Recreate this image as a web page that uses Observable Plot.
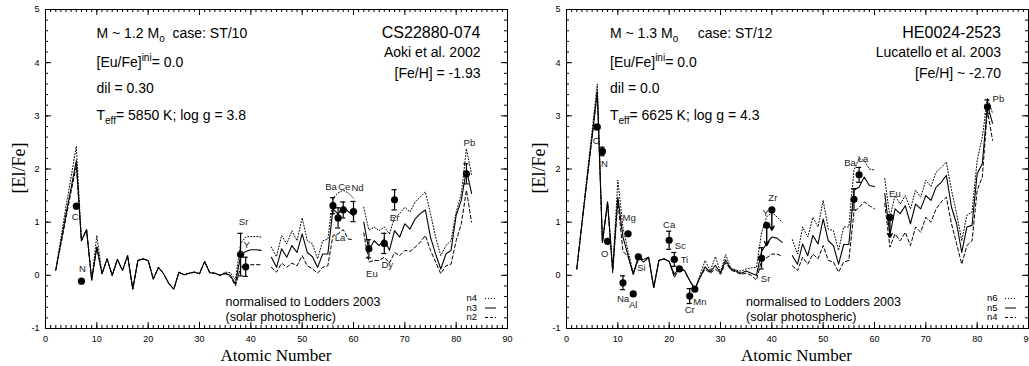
<!DOCTYPE html>
<html><head><meta charset="utf-8">
<script src="https://cdn.jsdelivr.net/npm/d3@7"></script>
<script src="https://cdn.jsdelivr.net/npm/@observablehq/plot@0.6"></script>
<style>
body{margin:0;background:#fff;}
#wrap{position:relative;width:1029px;height:366px;overflow:hidden;font-family:"Liberation Sans",Arial,sans-serif;color:#000;}
.panel{position:absolute;top:0;}
.ann{position:absolute;white-space:nowrap;line-height:1;}
.ann sub{font-size:10px;vertical-align:baseline;position:relative;top:4px;}
.ann sup{font-size:10px;vertical-align:baseline;position:relative;top:-6px;}
</style></head><body><div id="wrap"></div>
<script>
// ---------------- data ----------------
const Z = d3.range(2, 84); // atomic numbers 2..83
const xTickLabels = ["0","10","20","30","40","50","60","70","80","90"];
const yTickLabels = ["-1","0","1","2","3","4","5"];

// Left panel: CS22880-074, n4 (dotted), n3 (solid), n2 (dashed)
const L_n4 = [0.10,0.70,1.30,1.85,2.43,0.65,0.86,-0.09,0.75,0.03,
  0.31,0.00,0.30,0.09,0.37,-0.26,0.28,0.31,0.28,-0.07,
  0.15,0.03,-0.15,-0.26,0.06,0.01,0.04,0.06,0.03,0.26,
  0.05,0.04,0.00,0.06,0.05,-0.08,0.60,0.72,0.73,0.73,
  0.72,null,0.53,0.35,0.75,0.59,0.84,0.65,1.08,0.65,
  0.59,0.31,0.65,0.68,1.45,1.55,1.60,1.55,1.45,null,
  1.28,0.85,0.91,0.84,0.91,0.78,1.09,1.16,1.28,1.19,
  1.38,1.47,1.57,1.16,0.72,0.37,0.56,0.65,1.19,1.53,
  2.38,1.90];
const L_n3 = [0.10,0.62,1.15,1.65,2.16,0.65,0.86,-0.09,0.53,0.03,
  0.31,0.00,0.30,0.09,0.37,-0.26,0.28,0.31,0.28,-0.07,
  0.15,0.03,-0.15,-0.26,0.06,0.01,0.04,0.06,0.03,0.26,
  0.05,0.04,0.00,0.04,0.00,-0.16,0.37,0.45,0.48,0.48,
  0.47,null,0.34,0.15,0.50,0.34,0.56,0.43,0.78,0.43,
  0.35,0.15,0.40,0.40,1.25,1.15,1.30,1.20,1.12,null,
  1.00,0.47,0.65,0.56,0.68,0.47,0.84,0.72,0.97,0.87,
  1.06,1.16,1.23,0.72,0.40,0.12,0.40,0.47,1.13,1.41,
  1.99,1.54];
const L_n2 = [0.10,0.58,1.08,1.58,2.05,0.65,0.86,-0.09,0.53,0.03,
  0.31,0.00,0.30,0.09,0.37,-0.26,0.28,0.31,0.28,-0.07,
  0.15,0.03,-0.15,-0.26,0.06,0.01,0.04,0.06,0.03,0.26,
  0.05,0.04,0.00,0.03,-0.02,-0.20,0.15,0.20,0.20,0.20,
  0.20,null,0.15,0.06,0.23,0.15,0.23,0.18,0.37,0.18,
  0.12,0.04,0.15,0.18,0.75,0.78,0.86,0.68,0.67,null,
  0.80,0.25,0.28,0.28,0.34,0.23,0.43,0.37,0.47,0.45,
  0.53,0.62,0.75,0.47,0.25,0.03,0.18,0.21,0.65,0.97,
  1.60,1.00];
const L_el  = ["C","N","Sr","Y","Ba","La","Ce","Nd","Eu","Dy","Er","Pb"];
const L_Z   = [6,7,38,39,56,57,58,60,63,66,68,82];
const L_v   = [1.30,-0.11,0.39,0.16,1.31,1.08,1.23,1.20,0.50,0.60,1.42,1.91];
const L_err = [0,0,0.40,0.18,0.15,0.19,0.15,0.19,0.17,0.19,0.19,0.19];
const L_lim = [false,false,false,false,false,false,false,false,false,false,false,false];

// Right panel: HE0024-2523, n6 (dotted), n5 (solid), n4 (dashed)
const R_n6 = [0.12,1.00,1.87,2.73,3.60,0.62,1.38,0.10,1.79,0.90,
  0.45,0.05,0.34,0.30,0.34,-0.23,0.28,0.31,0.26,-0.02,
  0.14,0.09,-0.10,-0.26,0.00,0.28,0.08,0.35,0.06,0.39,
  0.14,0.10,0.08,0.12,0.14,0.15,0.80,1.10,1.18,1.10,
  1.00,null,0.67,0.40,0.91,0.72,1.09,0.91,1.41,0.87,
  0.84,0.47,0.91,0.91,1.98,2.20,2.16,2.00,1.98,null,
  1.82,1.09,1.50,1.34,1.50,1.25,1.60,1.47,1.79,1.67,
  1.94,2.03,2.13,1.60,1.16,0.65,1.13,1.19,2.16,2.60,
  3.33,3.05];
const R_n5 = [0.12,0.96,1.80,2.62,3.45,0.62,1.38,0.10,1.47,0.72,
  0.37,0.02,0.34,0.25,0.34,-0.23,0.28,0.31,0.26,0.02,
  0.14,0.09,-0.10,-0.26,-0.04,0.16,0.06,0.19,0.04,0.29,
  0.12,0.08,0.04,0.08,0.04,0.00,0.45,0.60,0.72,0.70,
  0.62,null,0.37,0.21,0.59,0.37,0.75,0.59,1.06,0.65,
  0.56,0.21,0.58,0.58,1.60,1.66,1.85,1.69,1.67,null,
  1.54,0.75,1.25,1.16,1.31,0.97,1.34,1.25,1.50,1.41,
  1.66,1.75,1.88,1.28,0.97,0.43,0.91,0.94,1.91,2.10,
  3.20,2.86];
const R_n4 = [0.12,0.96,1.80,2.62,3.45,0.62,1.38,0.05,1.40,0.45,
  0.35,0.02,0.30,0.30,0.34,-0.23,0.28,0.31,0.26,-0.04,
  0.12,0.09,-0.10,-0.26,-0.04,0.12,0.04,0.12,0.02,0.24,
  0.10,0.06,0.02,0.04,0.00,-0.09,0.28,0.33,0.40,0.40,
  0.36,null,0.18,0.09,0.34,0.21,0.40,0.31,0.56,0.28,
  0.25,0.06,0.25,0.28,1.19,1.28,1.38,1.31,1.25,null,
  1.35,0.53,0.78,0.65,0.81,0.56,0.91,0.81,1.09,1.00,
  1.25,1.38,1.47,0.97,0.59,0.21,0.56,0.65,1.60,1.85,
  3.10,2.54];
const R_el  = ["C","N","O","Na","Mg","Al","Si","Ca","Sc","Ti","Cr","Mn","Sr","Y","Zr","Ba","La","Eu","Pb"];
const R_Z   = [6,7,8,11,12,13,14,20,21,22,24,25,38,39,40,56,57,63,82];
const R_v   = [2.79,2.33,0.64,-0.14,0.78,-0.35,0.35,0.66,0.30,0.12,-0.39,-0.26,0.32,0.94,1.23,1.43,1.89,1.09,3.17];
const R_err = [0.05,0.08,0,0.13,0,0,0,0.17,0.13,0,0.14,0,0.20,0,0,0.20,0.14,0,0.13];
const R_lim = [false,false,false,false,false,false,false,false,false,false,false,false,false,true,true,false,false,true,false];

// ---------------- layout (label offsets in px) ----------------
const L_labelOff = {C:[-1,11],N:[1,-12],Sr:[3,-33],Y:[1,-22],Ba:[-2,-19],La:[2,20],Ce:[1,-23],Nd:[4,-24],Eu:[3,25],Dy:[3,22],Er:[0,18],Pb:[3,-31]};
const R_labelOff = {C:[-1,14],N:[2,12],O:[-3,13],Na:[0,16],Mg:[1,-16],Al:[0,11],Si:[3,11],Ca:[0,-15],Sc:[6,-13],Ti:[5,-9],Cr:[0,14],Mn:[5,13],Sr:[4,21],Y:[-1,-12],Zr:[1,-12],Ba:[-4,-36],La:[4,-16],Eu:[5,-23],Pb:[11,-8]};

const wrap = document.getElementById("wrap");
function addText(x, y, html, opts = {}) {
  const d = document.createElement("div");
  d.className = "ann";
  d.innerHTML = html;
  d.style.left = x + "px"; d.style.top = y + "px";
  d.style.fontSize = (opts.size || 14) + "px";
  if (opts.family) d.style.fontFamily = opts.family;
  const tx = opts.anchor === "end" ? "-100%" : opts.anchor === "middle" ? "-50%" : "0";
  d.style.transform = `translate(${tx}, -50%)` + (opts.rotate ? ` rotate(${opts.rotate}deg)` : "");
  wrap.appendChild(d);
}

function panel(cfg) {
  const pxX = 5.13, pxY = 53; // approximate px per unit for tick lengths
  const rows = s => Z.map((z, i) => ({z, v: s[i] == null ? NaN : s[i]}));
  const obs = cfg.el.map((e, i) => ({el: e, z: cfg.Z[i], v: cfg.v[i], e: cfg.err[i], lim: cfg.lim[i]}));
  const withErr = obs.filter(d => d.e > 0);
  const lims = obs.filter(d => d.lim);
  const xMinor = d3.range(0, 91, 1), xMajor = d3.range(0, 91, 10);
  const yMinor = d3.range(-1, 5.0001, 0.2), yMajor = d3.range(-1, 6, 1);
  const tl = 3, TL = 6;
  const marks = [
    Plot.frame({stroke: "black"}),
    Plot.ruleX(xMinor, {y1: -1, y2: -1 + tl / pxY, stroke: "black"}),
    Plot.ruleX(xMajor, {y1: -1, y2: -1 + TL / pxY, stroke: "black"}),
    Plot.ruleX(xMinor, {y1: 5, y2: 5 - tl / pxY, stroke: "black"}),
    Plot.ruleX(xMajor, {y1: 5, y2: 5 - TL / pxY, stroke: "black"}),
    Plot.ruleY(yMinor, {x1: 0, x2: tl / pxX, stroke: "black"}),
    Plot.ruleY(yMajor, {x1: 0, x2: TL / pxX, stroke: "black"}),
    Plot.ruleY(yMinor, {x1: 90, x2: 90 - tl / pxX, stroke: "black"}),
    Plot.ruleY(yMajor, {x1: 90, x2: 90 - TL / pxX, stroke: "black"}),
    Plot.text(xTickLabels, {x: d => +d, y: -1, dy: 11, text: d => d, fontSize: 9}),
    Plot.text(yTickLabels, {x: 0, y: d => +d, dx: -6, textAnchor: "end", text: d => d, fontSize: 9}),
    Plot.line(rows(cfg.dotted), {x: "z", y: "v", stroke: "black", strokeWidth: 1, strokeDasharray: "1,2"}),
    Plot.line(rows(cfg.dashed), {x: "z", y: "v", stroke: "black", strokeWidth: 1, strokeDasharray: "3.5,2.5"}),
    Plot.line(rows(cfg.solid), {x: "z", y: "v", stroke: "black", strokeWidth: 1.1}),
    Plot.ruleX(withErr, {x: "z", y1: d => d.v - d.e, y2: d => d.v + d.e, stroke: "black", strokeWidth: 1.2}),
    Plot.ruleY(withErr, {y: d => d.v + d.e, x1: d => d.z - 0.5, x2: d => d.z + 0.5, stroke: "black", strokeWidth: 1.2}),
    Plot.ruleY(withErr, {y: d => d.v - d.e, x1: d => d.z - 0.5, x2: d => d.z + 0.5, stroke: "black", strokeWidth: 1.2}),
    Plot.arrow(lims, {x1: "z", x2: "z", y1: "v", y2: d => d.v - 0.38, stroke: "black", strokeWidth: 1.4, headLength: 5}),
    Plot.dot(obs, {x: "z", y: "v", r: 3.6, fill: "black", stroke: "none"}),
    ...obs.map(d => Plot.text([d], {x: "z", y: "v", text: "el", dx: cfg.off[d.el][0], dy: cfg.off[d.el][1], fontSize: 9.5, fill: "#222"}))
  ];
  const svg = Plot.plot({
    width: cfg.width, height: 366,
    marginLeft: cfg.ml, marginRight: cfg.mr, marginTop: 9, marginBottom: 38,
    x: {domain: [0, 90], axis: null},
    y: {domain: [-1, 5], axis: null},
    style: {fontFamily: "'Liberation Sans', Arial, sans-serif", background: "transparent", overflow: "visible"},
    marks
  });
  svg.classList.add("panel");
  svg.style.left = cfg.left + "px";
  wrap.appendChild(svg);
}

panel({left: 0, width: 514, ml: 45, mr: 7, dotted: L_n4, solid: L_n3, dashed: L_n2,
  el: L_el, Z: L_Z, v: L_v, err: L_err, lim: L_lim, off: L_labelOff});
panel({left: 514, width: 515, ml: 52, mr: 1, dotted: R_n6, solid: R_n5, dashed: R_n4,
  el: R_el, Z: R_Z, v: R_v, err: R_err, lim: R_lim, off: R_labelOff});

// ---------------- annotations ----------------
const serif = "'Liberation Serif','Times New Roman',serif";
function panelText(ox, tx, lines, star, ref, feh, legendNames) {
  addText(ox + tx, 33, lines[0]);
  addText(ox + tx, 62, lines[1]);
  addText(ox + tx, 88, lines[2]);
  addText(ox + tx, 115, lines[3]);
  addText(ox + 435, 33, star, {anchor: "end", size: 16});
  addText(ox + 435, 52, ref, {anchor: "end", size: 14});
  addText(ox + 435, 73, feh, {anchor: "end", size: 14});
  addText(ox + 180, 302, "normalised to Lodders 2003", {size: 12.5});
  addText(ox + 180, 317, "(solar photospheric)", {size: 12.5});
  addText(ox + 230.5, 355, "Atomic Number", {anchor: "middle", size: 17, family: serif});
  addText(ox - 27, 168, "[El/Fe]", {anchor: "middle", size: 18, family: serif, rotate: -90});
  const ys = [298, 307.5, 317];
  legendNames.forEach((n, i) => addText(ox + 421, ys[i], n, {size: 9.5}));
  const s = document.createElementNS("http://www.w3.org/2000/svg", "svg");
  s.setAttribute("width", 20); s.setAttribute("height", 30);
  s.style.position = "absolute"; s.style.left = (ox + 438) + "px"; s.style.top = "290px";
  const dashes = ["1,2", null, "3,2"];
  dashes.forEach((da, i) => {
    const l = document.createElementNS("http://www.w3.org/2000/svg", "line");
    l.setAttribute("x1", 1); l.setAttribute("x2", 12);
    l.setAttribute("y1", ys[i] - 290 + 0.5); l.setAttribute("y2", ys[i] - 290 + 0.5);
    l.setAttribute("stroke", "black"); l.setAttribute("stroke-width", 1);
    if (da) l.setAttribute("stroke-dasharray", da);
    s.appendChild(l);
  });
  wrap.appendChild(s);
}
panelText(45.5, 51,
  ["M ~ 1.2 M<sub>o</sub>&nbsp; case: ST/10", "[Eu/Fe]<sup>ini</sup>= 0.0", "dil = 0.30", "T<sub>eff</sub>= 5850 K; log g = 3.8"],
  "CS22880-074", "Aoki et al. 2002", "[Fe/H] = -1.93", ["n4", "n3", "n2"]);
panelText(566, 44,
  ["M ~ 1.3 M<sub>o</sub>&nbsp;&nbsp;&nbsp;&nbsp; case: ST/12", "[Eu/Fe]<sup>ini</sup>= 0.0", "dil = 0.0", "T<sub>eff</sub>= 6625 K; log g = 4.3"],
  "HE0024-2523", "Lucatello et al. 2003", "[Fe/H] ~ -2.70", ["n6", "n5", "n4"]);
</script>
</body></html>
